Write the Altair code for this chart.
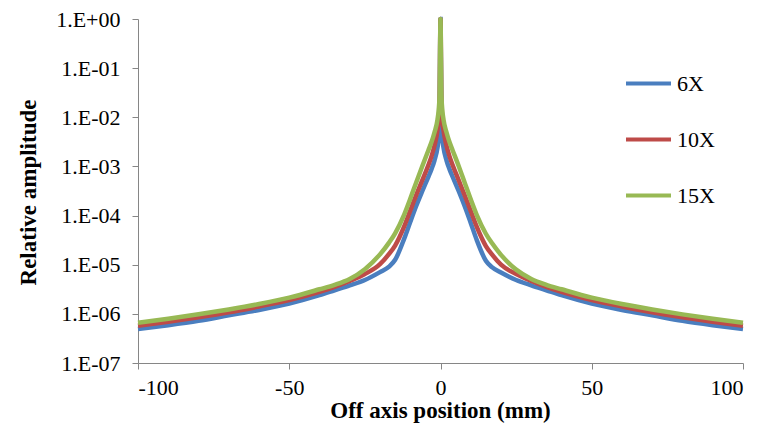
import altair as alt
import pandas as pd

# Off-axis positions (mm)
positions = [-100, -90, -80, -70, -60, -50, -40, -35, -30, -25, -20, -17, -15, -12, -10,
             -8, -6, -4, -3, -2, -1, -0.6, -0.3, 0, 0.3, 0.6, 1, 2, 3, 4, 6, 8,
             10, 12, 15, 17, 20, 25, 30, 35, 40, 50, 60, 70, 80, 90, 100]

# log10 of the relative amplitude
log_6x = [-6.31, -6.23, -6.14, -6.03, -5.92, -5.79, -5.62, -5.52, -5.42, -5.31, -5.15, -5.04, -4.90, -4.47, -4.13,
          -3.80, -3.50, -3.21, -3.06, -2.88, -2.62, -2.42, -2.05, 0.0, -2.05, -2.42, -2.62, -2.88, -3.06, -3.21, -3.50, -3.81,
          -4.15, -4.50, -4.92, -5.05, -5.16, -5.31, -5.42, -5.52, -5.62, -5.79, -5.92, -6.03, -6.14, -6.23, -6.31]
log_10x = [-6.24, -6.16, -6.07, -5.97, -5.85, -5.72, -5.55, -5.45, -5.33, -5.19, -4.99, -4.78, -4.61, -4.22, -3.90,
           -3.58, -3.28, -2.97, -2.80, -2.58, -2.27, -2.05, -1.70, 0.0, -1.70, -2.05, -2.27, -2.58, -2.80, -2.97, -3.28, -3.59,
           -3.91, -4.23, -4.62, -4.79, -5.00, -5.19, -5.33, -5.45, -5.55, -5.72, -5.85, -5.97, -6.07, -6.16, -6.24]
log_15x = [-6.18, -6.10, -6.01, -5.91, -5.80, -5.67, -5.50, -5.41, -5.29, -5.09, -4.79, -4.55, -4.36, -3.98, -3.66,
           -3.32, -2.99, -2.67, -2.51, -2.31, -2.05, -1.85, -1.55, 0.0, -1.55, -1.85, -2.05, -2.31, -2.51, -2.67, -2.99, -3.33,
           -3.67, -3.99, -4.37, -4.56, -4.80, -5.10, -5.29, -5.41, -5.50, -5.67, -5.80, -5.91, -6.01, -6.10, -6.18]

series_names = ["6X", "10X", "15X"]
series_logs = [log_6x, log_10x, log_15x]
colors = ["#4A7EBF", "#BE4B48", "#98B954"]

y_ticks = [1e0, 1e-1, 1e-2, 1e-3, 1e-4, 1e-5, 1e-6, 1e-7]
x_ticks = [-100, -50, 0, 50, 100]

rows = []
for name, logs in zip(series_names, series_logs):
    for x, lv in zip(positions, logs):
        rows.append({"pos": x, "amp": 10 ** lv, "series": name})
df = pd.DataFrame(rows)

FONT = "Liberation Serif"
AXIS_COLOR = "#868686"

chart = alt.Chart(df).mark_line(strokeWidth=4.5, interpolate="monotone").encode(
    x=alt.X("pos:Q",
            scale=alt.Scale(domain=[-100, 100], nice=False),
            axis=alt.Axis(values=x_ticks, title="Off axis position (mm)",
                          labelExpr="'' + datum.value",
                          labelFontSize=22, labelPadding=8, tickSize=6,
                          titleFontSize=23, titleFontWeight="bold",
                          titleX=302, titleY=47, titleBaseline="middle")),
    y=alt.Y("amp:Q",
            scale=alt.Scale(type="log", domain=[1e-7, 1], nice=False),
            axis=alt.Axis(values=y_ticks, title="Relative amplitude",
                          labelExpr="datum.value >= 1 ? '1.E+00' : '1.E-0' + format(round(-log(datum.value)/LN10), 'd')",
                          labelFontSize=22, labelPadding=12, tickSize=6,
                          titleFontSize=23, titleFontWeight="bold",
                          titleAngle=-90, titleX=-110, titleY=173,
                          titleBaseline="middle", titleAlign="center")),
    color=alt.Color("series:N",
                    scale=alt.Scale(domain=series_names, range=colors),
                    legend=alt.Legend(title=None, orient="none", legendX=486, legendY=40,
                                      symbolType="stroke", symbolSize=2025, symbolStrokeWidth=4,
                                      labelFont=FONT, labelFontSize=22, labelOffset=4,
                                      rowPadding=20, padding=0)),
).properties(
    width=605, height=344,
    background="white",
    autosize=alt.AutoSizeParams(type="none"),
    padding={"left": 130, "top": 11, "right": 12, "bottom": 67},
).configure_view(stroke=None).configure_axis(
    grid=False, domainColor=AXIS_COLOR, tickColor=AXIS_COLOR, domainWidth=1, tickWidth=1,
    labelFont=FONT, titleFont=FONT, labelColor="#000000", titleColor="#000000",
)

chart.save("out.html", embed_options={"renderer": "svg", "actions": False})
